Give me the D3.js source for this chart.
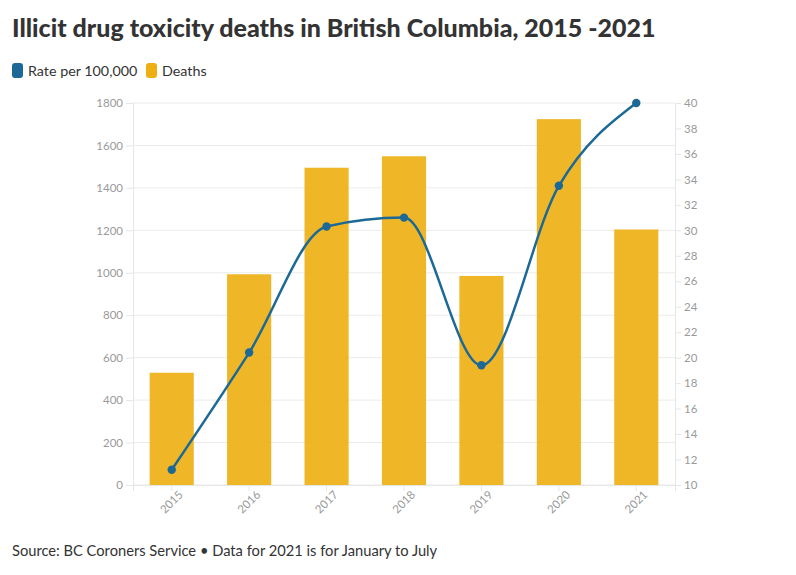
<!DOCTYPE html>
<html><head><meta charset="utf-8">
<script src="https://cdn.jsdelivr.net/npm/d3@7"></script>
<style>
body{margin:0;background:#fff;}
svg{display:block;font-family:"Lato","Open Sans",sans-serif;}
</style></head>
<body>
<svg id="c" width="796" height="575"></svg>
<script>
const years = ["2015","2016","2017","2018","2019","2020","2021"];
const deaths = [529, 993, 1495, 1549, 985, 1724, 1204];
const rates = [11.2, 20.4, 30.3, 31.0, 19.4, 33.5, 40.0];
const leftTicks = [0,200,400,600,800,1000,1200,1400,1600,1800];
const rightTicks = [10,12,14,16,18,20,22,24,26,28,30,32,34,36,38,40];

const svg = d3.select("#c");
const L = 133, R = 675, T = 103, B = 485;
const blue = "#1d6996", yellow = "#edaf11";

const x = d3.scaleBand().domain(years).range([L, R]).paddingInner(0.43).paddingOuter(0.215);
const yL = d3.scaleLinear().domain([0,1800]).range([B, T]);
const yR = d3.scaleLinear().domain([10,40]).range([B, T]);

// title
svg.append("text").attr("x",12).attr("y",37).attr("fill","#333")
  .style("font-size","25px").style("font-weight","900")
  .text("Illicit drug toxicity deaths in British Columbia, 2015 -2021");

// legend
const leg = [{c:blue,t:"Rate per 100,000",x:12},{c:yellow,t:"Deaths",x:146}];
leg.forEach(d=>{
  svg.append("rect").attr("x",d.x).attr("y",63).attr("width",11).attr("height",15).attr("rx",3).attr("fill",d.c);
  svg.append("text").attr("x",d.x+16).attr("y",76).attr("fill","#333").style("font-size","14.3px").text(d.t);
});

// gridlines
svg.append("g").selectAll("line").data(leftTicks).join("line")
  .attr("x1",L).attr("x2",R).attr("y1",d=>yL(d)).attr("y2",d=>yL(d))
  .attr("stroke","#ebebeb").attr("stroke-width",1);

// left axis
const gL = svg.append("g").attr("transform",`translate(${L},0)`)
  .call(d3.axisLeft(yL).tickValues(leftTicks).tickSize(7).tickPadding(3).tickFormat(d3.format("d")));
gL.select(".domain").attr("stroke","#e6e6e6");
gL.selectAll(".tick line").attr("stroke","#e6e6e6");
gL.selectAll("text").attr("fill","#9a9a9a").style("font-size","11.5px").style("font-family","Lato, sans-serif");

// right axis
const gR = svg.append("g").attr("transform",`translate(${R},0)`)
  .call(d3.axisRight(yR).tickValues(rightTicks).tickSize(6).tickPadding(3));
gR.select(".domain").attr("stroke","#e6e6e6");
gR.selectAll(".tick line").attr("stroke","#e6e6e6");
gR.selectAll("text").attr("fill","#9a9a9a").style("font-size","11.5px").style("font-family","Lato, sans-serif");

// bars
svg.append("g").selectAll("rect").data(years).join("rect")
  .attr("x",d=>x(d)).attr("width",x.bandwidth())
  .attr("y",(d,i)=>yL(deaths[i])).attr("height",(d,i)=>B-yL(deaths[i]))
  .attr("fill",yellow).attr("fill-opacity",0.9);

// x axis
const gX = svg.append("g").attr("transform",`translate(0,${B})`)
  .call(d3.axisBottom(x).tickSize(6).tickPadding(3));
gX.select(".domain").attr("stroke","#e6e6e6");
gX.selectAll(".tick line").attr("stroke","#e6e6e6");
gX.selectAll("text").attr("fill","#9a9a9a").style("font-size","11.5px").style("font-family","Lato, sans-serif")
  .attr("text-anchor","end").attr("dx","0.1em").attr("dy","0.6em").attr("transform","rotate(-45)");

// line
const pts = years.map((d,i)=>[x(d)+x.bandwidth()/2, yR(rates[i])]);
svg.append("path").datum(pts).attr("fill","none").attr("stroke",blue).attr("stroke-width",2.5)
  .attr("d", d3.line().curve(d3.curveMonotoneX));
svg.append("g").selectAll("circle").data(pts).join("circle")
  .attr("cx",d=>d[0]).attr("cy",d=>d[1]).attr("r",4.2).attr("fill",blue);

// source
svg.append("text").attr("x",12).attr("y",556).attr("fill","#333").style("font-size","14.7px")
  .text("Source: BC Coroners Service \u2022 Data for 2021 is for January to July");
</script>
</body></html>
